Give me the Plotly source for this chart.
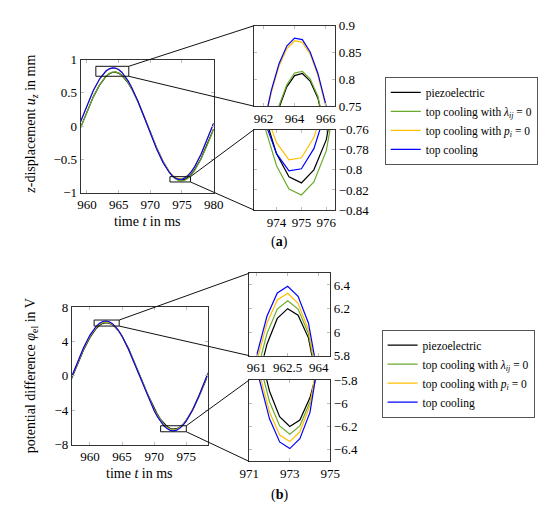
import plotly.graph_objects as go

FONT = "Liberation Serif, Times New Roman, DejaVu Serif, serif"

# ---------------- data, panel (a): z-displacement u_z in mm ----------------
t_a = [959, 960, 961, 962, 962.5, 963, 963.5, 964, 964.5, 965, 965.5, 966, 966.5, 967,
       968, 969, 970, 971, 972, 973, 973.5, 974, 974.5, 975, 975.5, 976, 976.5, 977,
       978, 979, 980]
uz_piezo = [-0.019, 0.220, 0.440, 0.621, 0.692, 0.747, 0.786, 0.807, 0.811, 0.797, 0.765,
            0.716, 0.651, 0.572, 0.377, 0.150, -0.091, -0.324, -0.529, -0.687, -0.744,
            -0.784, -0.807, -0.813, -0.800, -0.770, -0.722, -0.659, -0.491, -0.279, -0.043]
uz_no_lambda = [-0.023, 0.219, 0.441, 0.623, 0.695, 0.751, 0.790, 0.812, 0.815, 0.801, 0.768,
                0.719, 0.654, 0.574, 0.377, 0.147, -0.096, -0.331, -0.538, -0.697, -0.755,
                -0.796, -0.819, -0.825, -0.812, -0.781, -0.734, -0.670, -0.499, -0.286, -0.047]
uz_no_p = [0.072, 0.315, 0.533, 0.708, 0.775, 0.825, 0.857, 0.872, 0.869, 0.847, 0.807,
           0.750, 0.678, 0.591, 0.383, 0.146, -0.101, -0.336, -0.536, -0.687, -0.739,
           -0.773, -0.790, -0.788, -0.768, -0.729, -0.674, -0.603, -0.421, -0.197, 0.047]
uz_top = [0.069, 0.314, 0.535, 0.712, 0.779, 0.829, 0.862, 0.877, 0.874, 0.851, 0.811,
          0.754, 0.681, 0.593, 0.384, 0.144, -0.106, -0.343, -0.545, -0.697, -0.750,
          -0.784, -0.801, -0.799, -0.779, -0.740, -0.685, -0.613, -0.428, -0.203, 0.044]

# ---------------- data, panel (b): potential difference in V ----------------
t_b = [957, 958, 959, 960, 960.5, 961, 961.5, 962, 962.5, 963, 963.5, 964, 964.5, 965,
       966, 967, 968, 969, 970, 970.5, 971, 971.5, 972, 972.5, 973, 973.5, 974, 974.5,
       975, 975.5, 976, 977, 978, 979]
phi_piezo = [-0.556, 1.289, 3.019, 4.481, 5.070, 5.545, 5.897, 6.116, 6.199, 6.144, 5.951,
             5.626, 5.175, 4.608, 3.180, 1.470, -0.371, -2.178, -3.792, -4.481, -5.070,
             -5.545, -5.897, -6.116, -6.199, -6.144, -5.951, -5.626, -5.175, -4.608,
             -3.938, -2.352, -0.556, 1.289]
phi_no_lambda = [-0.468, 1.394, 3.133, 4.592, 5.176, 5.645, 5.987, 6.195, 6.265, 6.195, 5.987,
                 5.645, 5.176, 4.592, 3.133, 1.394, -0.468, -2.289, -3.906, -4.592, -5.176,
                 -5.645, -5.987, -6.195, -6.265, -6.195, -5.987, -5.645, -5.176, -4.592,
                 -3.906, -2.289, -0.468, 1.394]
phi_no_p = [-0.379, 1.501, 3.247, 4.704, 5.283, 5.744, 6.076, 6.273, 6.329, 6.245, 6.020,
            5.662, 5.176, 4.575, 3.083, 1.316, -0.568, -2.401, -4.021, -4.704, -5.283,
            -5.744, -6.076, -6.273, -6.329, -6.245, -6.020, -5.662, -5.176, -4.575,
            -3.871, -2.224, -0.379, 1.501]
phi_top = [-0.382, 1.515, 3.277, 4.749, 5.333, 5.798, 6.134, 6.332, 6.389, 6.304, 6.078,
           5.715, 5.225, 4.619, 3.112, 1.328, -0.573, -2.424, -4.059, -4.749, -5.333,
           -5.798, -6.134, -6.332, -6.389, -6.304, -6.078, -5.715, -5.225, -4.619,
           -3.908, -2.245, -0.382, 1.515]

names = ["piezoelectric",
         "top cooling with <i>λ<sub>ij</sub></i> = 0",
         "top cooling with <i>p<sub>i</sub></i> = 0",
         "top cooling"]
colors = ["#000000", "#6aaa2a", "#ffbf00", "#0000ff"]

# tick labels
a_main_x = [960, 965, 970, 975, 980]
a_main_y = [-1, -0.5, 0, 0.5, 1]
a_top_x = [962, 964, 966]
a_top_y = [0.75, 0.8, 0.85, 0.9]
a_bot_x = [974, 975, 976]
a_bot_y = [-0.84, -0.82, -0.8, -0.78, -0.76]
b_main_x = [960, 965, 970, 975]
b_main_y = [-8, -4, 0, 4, 8]
b_top_x = [961, 962.5, 964]
b_top_y = [5.8, 6, 6.2, 6.4]
b_bot_x = [971, 973, 975]
b_bot_y = [-6.4, -6.2, -6, -5.8]


def lbl(vals):
    return [f"{v:g}".replace("-", "\u2212") for v in vals]


# ---------------- axes: ranges and domains ----------------
axes = {
    # name: (x range, y range, x domain, y domain)
    "a_main": ([959, 980], [-1, 1], [0.1182, 0.3691], [0.6412, 0.9098]),
    "a_top": ([961.4, 966.6], [0.75, 0.9], [0.4455, 0.5982], [0.8157, 0.9784]),
    "a_bot": ([973.1, 976.35], [-0.84, -0.76], [0.4455, 0.5982], [0.6059, 0.7686]),
    "b_main": ([957.2, 978.3], [-8, 8], [0.1018, 0.3576], [0.1320, 0.4098]),
    "b_top": ([960.65, 964.55], [5.8, 6.5], [0.4364, 0.5891], [0.3118, 0.4784]),
    "b_bot": ([971, 975], [-6.5, -5.8], [0.4364, 0.5891], [0.0980, 0.2627]),
}
order = ["a_main", "a_top", "a_bot", "b_main", "b_top", "b_bot"]
ticks = {
    "a_main": (a_main_x, a_main_y), "a_top": (a_top_x, a_top_y), "a_bot": (a_bot_x, a_bot_y),
    "b_main": (b_main_x, b_main_y), "b_top": (b_top_x, b_top_y), "b_bot": (b_bot_x, b_bot_y),
}

fig = go.Figure()

series = {
    "a": (t_a, [uz_piezo, uz_no_lambda, uz_no_p, uz_top]),
    "b": (t_b, [phi_piezo, phi_no_lambda, phi_no_p, phi_top]),
}

for i, key in enumerate(order):
    n = "" if i == 0 else str(i + 1)
    t, ys = series[key[0]]
    for name, col, y in zip(names, colors, ys):
        fig.add_trace(go.Scatter(
            x=t, y=y, mode="lines", name=name,
            line=dict(color=col, width=1.2),
            xaxis="x" + n, yaxis="y" + n,
            showlegend=key.endswith("main"),
            legend="legend" if key[0] == "a" else "legend2",
            hoverinfo="skip",
        ))

frame = dict(showline=True, linecolor="#333333", linewidth=1, mirror="ticks",
             ticks="inside", ticklen=3, tickcolor="#bdbdbd", showgrid=False,
             zeroline=False, tickmode="array",
             tickfont=dict(family=FONT, size=13, color="black"))

layout = {}
for i, key in enumerate(order):
    n = "" if i == 0 else str(i + 1)
    xr, yr, xd, yd = axes[key]
    xt, yt = ticks[key]
    layout["xaxis" + n] = dict(frame, range=xr, domain=xd, anchor="y" + n,
                               tickvals=xt, ticktext=lbl(xt))
    layout["yaxis" + n] = dict(frame, range=yr, domain=yd, anchor="x" + n,
                               tickvals=yt, ticktext=lbl(yt),
                               side="left" if key.endswith("main") else "right")
fig.update_layout(**layout)


def to_paper(v, rng, dom):
    return dom[0] + (v - rng[0]) / (rng[1] - rng[0]) * (dom[1] - dom[0])


shapes = []
for main, ref, insets in [("a_main", ("x", "y"), ["a_top", "a_bot"]),
                          ("b_main", ("x4", "y4"), ["b_top", "b_bot"])]:
    mxr, myr, mxd, myd = axes[main]
    for ins in insets:
        ixr, iyr, ixd, iyd = axes[ins]
        # zoom box on the main axes
        shapes.append(dict(type="rect", xref=ref[0], yref=ref[1],
                           x0=ixr[0], x1=ixr[1], y0=iyr[0], y1=iyr[1],
                           line=dict(color="#111111", width=1)))
        bx = to_paper(ixr[1], mxr, mxd)
        by_top = to_paper(iyr[1], myr, myd)
        by_bot = to_paper(iyr[0], myr, myd)
        shapes.append(dict(type="line", xref="paper", yref="paper",
                           x0=bx, y0=by_top, x1=ixd[0], y1=iyd[1],
                           line=dict(color="#111111", width=1)))
        shapes.append(dict(type="line", xref="paper", yref="paper",
                           x0=bx, y0=by_bot, x1=ixd[0], y1=iyd[0],
                           line=dict(color="#111111", width=1)))

txt = dict(family=FONT, size=14, color="black")
annotations = [
    dict(text="<i>z</i>-displacement <i>u<sub>z</sub></i> in mm", x=0.026, y=0.78,
         textangle=-90),
    dict(text="potential difference <i>φ</i><sub>el</sub> in V", x=0.027, y=0.271,
         textangle=-90),
    dict(text="time <i>t</i> in ms", x=0.2436, y=0.582),
    dict(text="time <i>t</i> in ms", x=0.23, y=0.073),
    dict(text="(<b>a</b>)", x=0.4927, y=0.541),
    dict(text="(<b>b</b>)", x=0.4927, y=0.03),
]
for a in annotations:
    a.update(xref="paper", yref="paper", showarrow=False, font=txt,
             xanchor="center", yanchor="middle")

leg = dict(bgcolor="white", bordercolor="#555555", borderwidth=1,
           font=dict(family=FONT, size=11.5, color="black"),
           xanchor="left", yanchor="middle", itemwidth=30, tracegroupgap=0)

fig.update_layout(
    width=550, height=510,
    margin=dict(l=0, r=0, t=0, b=0),
    paper_bgcolor="white", plot_bgcolor="white",
    shapes=shapes, annotations=annotations,
    legend=dict(leg, x=0.692, y=0.786),
    legend2=dict(leg, x=0.686, y=0.2755),
    showlegend=True,
)

fig.write_html("out.html")
